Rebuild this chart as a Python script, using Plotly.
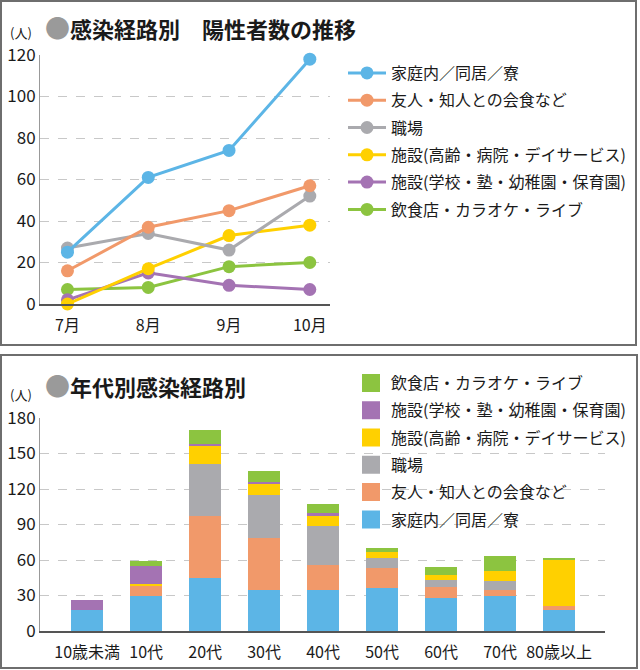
import plotly.graph_objects as go

W, H = 640, 670
FONT = "Noto Sans CJK JP"

# ---------------- data ----------------
months = ["7月", "8月", "9月", "10月"]
routes = ["家庭内／同居／寮", "友人・知人との会食など", "職場",
          "施設(高齢・病院・デイサービス)", "施設(学校・塾・幼稚園・保育園)",
          "飲食店・カラオケ・ライブ"]
colors = ["#5cb5e6", "#f1996a", "#aaaaae", "#ffd000", "#a473b3", "#8cc440"]

line_home = [25, 61, 74, 118]
line_friends = [16, 37, 45, 57]
line_work = [27, 34, 26, 52]
line_elderly = [0, 17, 33, 38]
line_school = [2, 15, 9, 7]
line_food = [7, 8, 18, 20]

ages = ["10歳未満", "10代", "20代", "30代", "40代", "50代", "60代", "70代", "80歳以上"]
bar_home = [18, 30, 45, 35, 35, 36, 28, 30, 18]
bar_friends = [0, 8, 52, 44, 21, 17, 9, 5, 3]
bar_work = [0, 0, 44, 36, 33, 9, 6, 7, 0]
bar_elderly = [0, 2, 15, 10, 8, 5, 4, 9, 39]
bar_school = [8, 15, 2, 1, 3, 0, 0, 0, 0]
bar_food = [0, 4, 12, 9, 7, 3, 7, 12, 1]

line_series = [line_home, line_friends, line_work, line_elderly, line_school, line_food]
bar_series = [bar_home, bar_friends, bar_work, bar_elderly, bar_school, bar_food]


def px_x(p):
    return p / W


def px_y(p):
    return 1 - p / H


fig = go.Figure()

# line chart: draw in reverse so the first series sits on top
for i in reversed(range(len(routes))):
    fig.add_trace(go.Scatter(
        x=months, y=line_series[i], name=routes[i], mode="lines+markers",
        line=dict(color=colors[i], width=3),
        marker=dict(color=colors[i], size=13),
        xaxis="x", yaxis="y", legend="legend", legendrank=i + 1,
        legendgroup="l%d" % i, cliponaxis=False,
    ))

# stacked bars
for i in range(len(routes)):
    fig.add_trace(go.Bar(
        x=ages, y=bar_series[i], name=routes[i], marker=dict(color=colors[i], line=dict(width=0)),
        xaxis="x2", yaxis="y2", showlegend=False, legendgroup="b%d" % i, width=0.54,
    ))
# legend entries for bars (square swatches)
for i in range(len(routes)):
    fig.add_trace(go.Scatter(
        x=[None], y=[None], name=routes[i], mode="markers",
        marker=dict(color=colors[i], symbol="square", size=16, line=dict(color=colors[i], width=2)),
        xaxis="x2", yaxis="y2", legend="legend2", legendgroup="b%d" % i,
        legendrank=len(routes) - i,
    ))

axis_common = dict(showgrid=False, zeroline=False, ticks="", showline=True,
                   linecolor="#555555", linewidth=2, automargin=False,
                   tickfont=dict(family=FONT, size=16, color="#1a1a1a"))
yaxis_common = dict(showgrid=True, gridcolor="#c8c8c8", griddash="dash", gridwidth=1,
                    zeroline=False, ticks="", showline=True, linecolor="#999999", linewidth=1,
                    automargin=False,
                    tickfont=dict(family=FONT, size=17, color="#1a1a1a"))

fig.update_layout(
    width=W, height=H, margin=dict(l=0, r=0, t=0, b=0, autoexpand=False),
    paper_bgcolor="white", plot_bgcolor="white",
    barmode="stack", showlegend=True,
    font=dict(family=FONT, color="#1a1a1a"),
    xaxis=dict(domain=[px_x(40), px_x(330)], range=[-0.34, 3.25], anchor="y",
               type="category", ticklabelstandoff=6, **axis_common),
    yaxis=dict(domain=[px_y(304), px_y(55)], range=[0, 120], dtick=20, anchor="x", **yaxis_common),
    xaxis2=dict(domain=[px_x(40), px_x(605)], range=[-0.8, 8.78], anchor="y2",
                type="category", ticklabelstandoff=6, **axis_common),
    yaxis2=dict(domain=[px_y(631), px_y(418)], range=[0, 180], dtick=30, anchor="x2", **yaxis_common),
    legend=dict(x=px_x(343), y=px_y(56), xanchor="left", yanchor="top",
                font=dict(family=FONT, size=16, color="#1a1a1a"),
                bgcolor="rgba(0,0,0,0)", itemwidth=38, traceorder="grouped",
                tracegroupgap=3.5),
    legend2=dict(x=px_x(351), y=px_y(366), xanchor="left", yanchor="top",
                 font=dict(family=FONT, size=16, color="#1a1a1a"),
                 bgcolor="rgba(0,0,0,0)", traceorder="grouped", tracegroupgap=3.5),
    shapes=[
        dict(type="rect", xref="paper", yref="paper", x0=px_x(1), x1=px_x(636),
             y0=px_y(345), y1=px_y(1), line=dict(color="#6e6e6e", width=2)),
        dict(type="rect", xref="paper", yref="paper", x0=px_x(1), x1=px_x(637),
             y0=px_y(668), y1=px_y(355), line=dict(color="#6e6e6e", width=2)),
    ],
    annotations=[
        dict(text="<span style='color:#9a9a9a;font-size:25px'>●</span><b>感染経路別　陽性者数の推移</b>",
             xref="paper", yref="paper", x=px_x(43), y=px_y(27), xanchor="left", yanchor="middle",
             showarrow=False, font=dict(family=FONT, size=22, color="#1a1a1a")),
        dict(text="<span style='color:#9a9a9a;font-size:25px'>●</span><b>年代別感染経路別</b>",
             xref="paper", yref="paper", x=px_x(43), y=px_y(385), xanchor="left", yanchor="middle",
             showarrow=False, font=dict(family=FONT, size=22, color="#1a1a1a")),
        dict(text="(人)", xref="paper", yref="paper", x=px_x(21), y=px_y(32),
             xanchor="center", yanchor="middle", showarrow=False,
             font=dict(family=FONT, size=13, color="#1a1a1a")),
        dict(text="(人)", xref="paper", yref="paper", x=px_x(21), y=px_y(394),
             xanchor="center", yanchor="middle", showarrow=False,
             font=dict(family=FONT, size=13, color="#1a1a1a")),
    ],
)

fig.write_html("out.html", config={"displayModeBar": False},
               post_script="document.body.style.margin='0';")
